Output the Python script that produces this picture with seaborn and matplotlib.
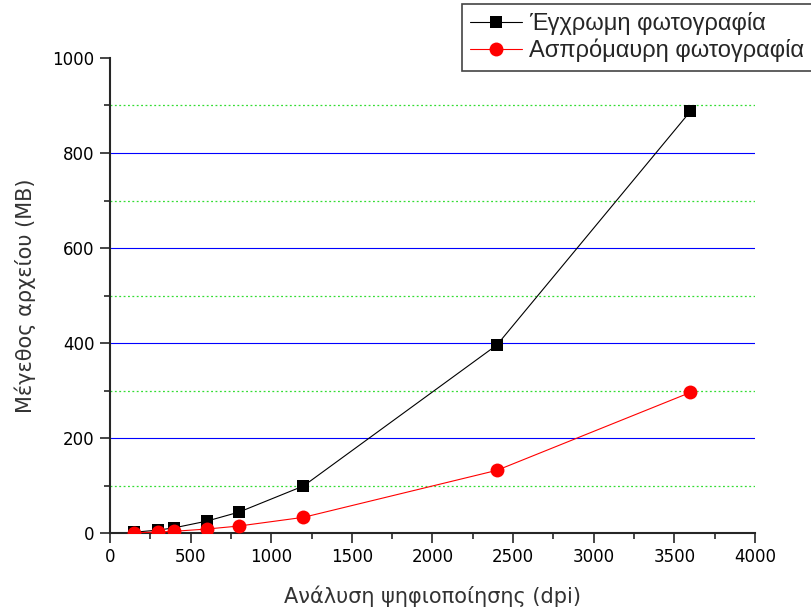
import matplotlib
matplotlib.use("Agg")
import matplotlib.pyplot as plt
from matplotlib.ticker import MultipleLocator
import seaborn as sns
import pandas as pd

# Data
dpi = [150, 300, 400, 600, 800, 1200, 2400, 3600]
color_mb = [1.6, 6.2, 11, 25, 44, 99, 396, 888]
gray_mb = [0.5, 2.1, 3.7, 8.3, 14.7, 33, 132, 296]
color_label = "Έγχρωμη φωτογραφία"
gray_label = "Ασπρόμαυρη φωτογραφία"

sns.set_style("ticks")
plt.rcParams["font.family"] = ["DejaVu Sans"]

fig = plt.figure(figsize=(8.12, 6.13), dpi=100)
ax = fig.add_axes([110 / 812, 1 - 533 / 613, 645 / 812, 475 / 613])

df_c = pd.DataFrame({"dpi": dpi, "mb": color_mb})
df_g = pd.DataFrame({"dpi": dpi, "mb": gray_mb})

sns.lineplot(data=df_c, x="dpi", y="mb", ax=ax, color="black", marker="s",
             markersize=9, markeredgewidth=0, linewidth=0.8, label=color_label, zorder=3)
sns.lineplot(data=df_g, x="dpi", y="mb", ax=ax, color="red", marker="o",
             markersize=10, markeredgewidth=0, linewidth=0.8, label=gray_label, zorder=3)

ax.set_xlim(0, 4000)
ax.set_ylim(0, 1000)
ax.xaxis.set_major_locator(MultipleLocator(500))
ax.xaxis.set_minor_locator(MultipleLocator(250))
ax.yaxis.set_major_locator(MultipleLocator(200))
ax.yaxis.set_minor_locator(MultipleLocator(100))

# grid: blue major, green dotted minor (horizontal only)
for y in range(200, 1000, 200):
    ax.axhline(y, color="blue", linewidth=0.8, zorder=1)
for y in range(100, 1000, 200):
    ax.axhline(y, color="#33dd33", linewidth=0.9, linestyle=(0, (1.5, 2)), zorder=1)

sns.despine(ax=ax)
ax.spines["left"].set_linewidth(1.5)
ax.spines["bottom"].set_linewidth(1.5)
ax.tick_params(which="major", direction="out", length=7, width=1.2, labelsize=12,
               pad=4, labelcolor="black")
ax.tick_params(which="minor", direction="out", length=4, width=1.2)

ax.set_xlabel("Ανάλυση ψηφιοποίησης (dpi)", fontsize=15, color="#333333", labelpad=14)
ax.set_ylabel("Μέγεθος αρχείου (MB)", fontsize=15, color="#333333", labelpad=12)

ax.get_legend().remove()
handles, labels = ax.get_legend_handles_labels()
leg = fig.legend(handles, labels, loc="upper left", bbox_to_anchor=(462 / 812, 1 - 4 / 613),
                 prop={"family": "Liberation Sans", "size": 17}, frameon=True, fancybox=False,
                 edgecolor="#444444", framealpha=1, borderpad=0.35, labelspacing=0.15,
                 handlelength=2.2, handletextpad=0.3, borderaxespad=0)
leg.get_frame().set_linewidth(1.2)

fig.savefig("out.png", dpi=100)
